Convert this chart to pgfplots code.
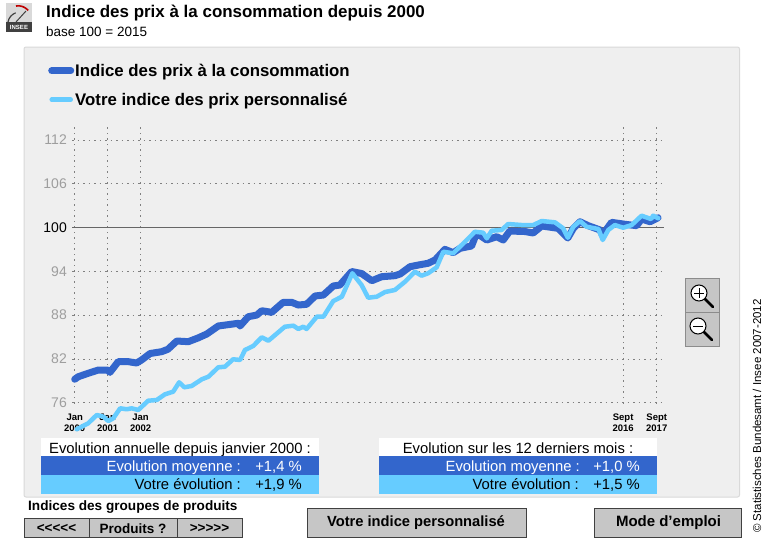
\documentclass[border=0pt]{standalone}
\usepackage{pgfplots}
\pgfplotsset{compat=1.18}
\usepackage{fontspec}
\setmainfont{Liberation Sans}
\definecolor{dkb}{HTML}{3366CC}
\definecolor{ltb}{HTML}{66CCFF}
\definecolor{pan}{HTML}{EFEFEF}
\definecolor{btn}{HTML}{C6C6C6}
\definecolor{edg}{HTML}{404040}
\begin{document}
\begin{tikzpicture}[x=1pt,y=1pt]
\fill[white] (0,0) rectangle (763,-538);
% panel
\draw[draw=black!15,line width=1pt,fill=pan,rounded corners=2pt] (24,-47) rectangle (739.5,-497);
% logo
\fill[black!15] (6,-3) rectangle (32,-32);
\fill[black!75] (6,-22) rectangle (32,-32);
\node[text=white,font=\bfseries\fontsize{6}{6}\selectfont,inner sep=0pt] at (19,-27) {INSEE};
\draw[black!75,line width=1.2pt] (8,-22) arc[start angle=170,end angle=110,radius=12];
\draw[red!75!black,line width=1.6pt] (16,-6) arc[start angle=100,end angle=40,radius=13];
\draw[black!75,line width=1pt] (16,-22) -- (26,-11);
% titles
\node[anchor=base west,inner sep=0pt,font=\bfseries\fontsize{16.95}{18}\selectfont] at (46,-17.5) {Indice des prix à la consommation depuis 2000};
\node[anchor=base west,inner sep=0pt,font=\fontsize{13.5}{15}\selectfont] at (46,-36.5) {base 100 = 2015};
% tables
\foreach \x/\y in {41/319,379/657}{
  \fill[white] (\x,-438) rectangle (\y,-456);
  \fill[dkb] (\x,-456) rectangle (\y,-475);
  \fill[ltb] (\x,-475) rectangle (\y,-494);
}
\tikzset{tb/.style={inner sep=0pt,font=\fontsize{14.8}{16}\selectfont}}
\node[tb,anchor=base] at (180,-453.3) {Evolution annuelle depuis janvier 2000 :};
\node[tb,anchor=base east,text=white] at (241,-471) {Evolution moyenne :};
\node[tb,anchor=base east,text=white] at (302,-471) {+1,4 \%};
\node[tb,anchor=base east] at (241,-489.3) {Votre évolution :};
\node[tb,anchor=base east] at (302,-489.3) {+1,9 \%};
\node[tb,anchor=base] at (518,-453.3) {Evolution sur les 12 derniers mois :};
\node[tb,anchor=base east,text=white] at (580,-471) {Evolution moyenne :};
\node[tb,anchor=base east,text=white] at (640,-471) {+1,0 \%};
\node[tb,anchor=base east] at (579,-489.3) {Votre évolution :};
\node[tb,anchor=base east] at (640,-489.3) {+1,5 \%};
% bottom buttons
\node[anchor=west,inner sep=0pt,font=\bfseries\fontsize{13.6}{15}\selectfont] at (28,-507) {Indices des groupes de produits};
\tikzset{bt/.style={fill=btn,draw=edg,line width=1pt}}
\draw[bt] (24,-518.5) rectangle (242,-537.5);
\draw[edg,line width=1pt] (89,-518) -- (89,-537.5) (177,-518) -- (177,-537.5);
\tikzset{bl/.style={inner sep=0pt,font=\bfseries\fontsize{13.5}{15}\selectfont}}
\node[bl] at (56.5,-528.5) {<{}<{}<{}<{}<};
\node[bl] at (133,-528.5) {Produits ?};
\node[bl] at (209.5,-528.5) {>{}>{}>{}>{}>};
\draw[bt] (307,-508) rectangle (526,-537.5);
\node[inner sep=0pt,font=\bfseries\fontsize{14.7}{16}\selectfont] at (416,-523) {Votre indice personnalisé};
\draw[bt] (594.5,-508) rectangle (741,-537.5);
\node[inner sep=0pt,font=\bfseries\fontsize{15}{16}\selectfont] at (668.5,-523) {Mode d'emploi};
% credit
\node[rotate=90,anchor=west,inner sep=0pt,font=\fontsize{11.5}{13}\selectfont] at (757,-533) {© Statistisches Bundesamt / Insee 2007-2012};
% zoom buttons
\fill[btn] (685,-278) rectangle (719,-346);
\draw[black!45,line width=1pt] (685,-346) -- (685,-278) -- (719,-278) -- (719,-346) -- cycle;
\draw[black!45,line width=1pt] (685,-312) -- (719,-312);
\draw[black,line width=2.6pt,line cap=round] (705,-299) -- (713,-307);
\draw[black,line width=2.6pt,line cap=round] (704,-332) -- (712,-340);
\draw[black,line width=1pt,fill=white] (699,-293) circle (8);
\draw[black,line width=1pt,fill=white] (698,-326) circle (8);
\draw[black,line width=1pt] (694,-293) -- (704,-293) (699,-288) -- (699,-298);
\draw[black,line width=1pt] (693,-326) -- (703,-326);
% frame: grid and tick labels, beneath the curves
\begin{axis}[
  at={(72pt,-403.5pt)},anchor=south west,
  scale only axis,width=592pt,height=276.5pt,
  clip=false,
  xmin=1999.918,xmax=2017.891,ymin=75.89,ymax=113.77,
  axis line style={draw=none},
  xtick={2000,2001,2002,2016.65,2017.67},
  xticklabels={Jan\\2000,Jan\\2001,Jan\\2002,Sept\\2016,Sept\\2017},
  ytick={76,82,88,94,100,106,112},
  yticklabels={76,82,88,94,\textcolor{black}{100},106,112},
  xmajorgrids,ymajorgrids,
  grid style={black!50,line width=0.8pt,dash pattern=on 1.5pt off 4pt},
  tick style={draw=none},
  major tick length=0pt,
  x tick label style={align=center,font=\bfseries\fontsize{9.5}{10.5}\selectfont,yshift=-10.5pt,inner sep=0pt},
  y tick label style={text=black!38,font=\fontsize{14}{14}\selectfont,anchor=east,xshift=-5pt,inner sep=0pt},
]
\addplot[black!60,line width=1.2pt] coordinates {(1999.918,100) (2017.891,100)};
\end{axis}
% curves and legend
\begin{axis}[
  at={(72pt,-403.5pt)},anchor=south west,
  scale only axis,width=592pt,height=276.5pt,
  clip=false,hide axis,
  xmin=1999.918,xmax=2017.891,ymin=75.89,ymax=113.77,
  legend style={draw=none,fill=none,at={(-0.0405,1.229)},anchor=north west,
    font=\bfseries\fontsize{16.8}{18}\selectfont,row sep=15pt,inner sep=0pt,
    nodes={inner sep=0pt},/tikz/every odd column/.append style={column sep=1pt}},
  legend cell align=left,
  legend image code/.code={\draw[#1,line cap=round] (0pt,0pt) -- (19pt,0pt);},
]
\addplot[dkb,line width=7pt,line join=round,line cap=round] coordinates {
(2000.00,79.21)(2000.11,79.56)(2000.41,80.03)(2000.72,80.48)(2001.00,80.48)(2001.07,80.16)(2001.32,81.62)(2001.63,81.62)(2001.88,81.44)(2002.03,81.85)
(2002.29,82.74)(2002.64,82.99)(2002.83,83.32)(2003.10,84.45)(2003.45,84.36)(2003.74,84.86)(2004.01,85.41)(2004.36,86.51)(2004.97,86.88)(2005.02,86.51)
(2005.27,87.78)(2005.53,88.01)(2005.68,88.60)(2005.98,88.38)(2006.33,89.75)(2006.59,89.75)(2006.79,89.38)(2007.04,89.48)(2007.30,90.62)(2007.55,90.75)
(2007.85,91.99)(2008.05,92.12)(2008.41,93.97)(2008.71,93.70)(2009.02,92.71)(2009.32,93.26)(2009.72,93.40)(2009.88,93.63)(2010.18,94.63)(2010.43,94.86)
(2010.73,95.10)(2010.94,95.55)(2011.24,97.01)(2011.49,96.55)(2011.70,97.15)(2012.05,97.47)(2012.20,99.21)(2012.51,98.29)(2012.81,98.74)(2013.01,98.29)
(2013.21,99.52)(2013.67,99.45)(2013.92,99.25)(2014.18,100.21)(2014.68,99.89)(2014.97,98.56)(2015.14,99.89)(2015.34,100.79)(2015.59,100.25)(2015.95,99.66)
(2016.02,98.97)(2016.30,100.71)(2016.71,100.44)(2017.06,100.25)(2017.21,101.16)(2017.47,100.79)(2017.71,101.34)};
\addlegendentry{Indice des prix à la consommation}
\addplot[ltb,line width=4.5pt,line join=round,line cap=round] coordinates {
(2000.06,72.36)(2000.41,73.18)(2000.67,74.32)(2000.87,74.08)(2001.02,73.49)(2001.17,73.86)(2001.38,75.23)(2001.58,75.10)(2001.73,75.23)(2001.93,75.00)
(2002.23,76.27)(2002.49,76.37)(2002.74,77.15)(2002.99,77.51)(2003.17,78.79)(2003.33,78.11)(2003.55,78.29)(2003.86,79.21)(2004.06,79.56)(2004.36,80.85)
(2004.56,80.93)(2004.81,81.95)(2005.02,81.85)(2005.17,83.22)(2005.42,83.77)(2005.68,84.96)(2005.88,84.49)(2006.38,86.41)(2006.64,86.55)(2006.79,86.10)
(2006.94,86.41)(2007.04,86.10)(2007.35,87.78)(2007.55,87.78)(2007.85,89.93)(2008.11,90.52)(2008.43,93.73)(2008.71,92.12)(2008.91,90.38)(2009.17,90.52)
(2009.42,91.16)(2009.72,91.44)(2010.03,92.58)(2010.33,93.95)(2010.53,93.40)(2010.73,93.73)(2010.99,94.55)(2011.19,96.68)(2011.49,96.47)(2011.85,98.05)
(2012.15,99.42)(2012.40,99.29)(2012.51,98.52)(2012.66,99.56)(2012.96,99.66)(2013.16,100.48)(2013.57,100.34)(2013.92,100.34)(2014.18,100.89)(2014.58,100.71)
(2014.83,99.89)(2014.97,98.60)(2015.14,100.11)(2015.34,100.89)(2015.54,100.11)(2015.90,99.79)(2016.03,98.29)(2016.20,99.66)(2016.40,100.34)(2016.65,99.97)
(2016.91,100.34)(2017.21,101.62)(2017.50,101.16)(2017.56,101.62)(2017.72,101.26)};
\addlegendentry{Votre indice des prix personnalisé}
\end{axis}
\end{tikzpicture}
\end{document}
